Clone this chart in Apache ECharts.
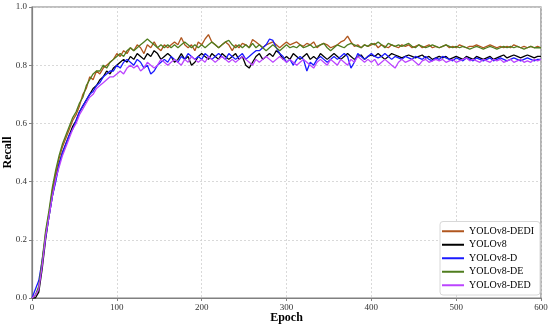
<!DOCTYPE html>
<html><head><meta charset="utf-8">
<script src="https://cdn.jsdelivr.net/npm/echarts@6/dist/echarts.min.js"></script>
<style>html,body{margin:0;padding:0;background:#fff}#c{width:550px;height:329px}</style>
</head><body><div id="c"></div>
<script>
// Epoch step of the sampled values
const epochStep = 4;
const seriesNames = ['YOLOv8-DEDI','YOLOv8','YOLOv8-D','YOLOv8-DE','YOLOv8-DED'];
const xTicks = [0,100,200,300,400,500,600];
const yTicks = [0.0,0.2,0.4,0.6,0.8,1.0];

const dedi = [
0.00,0.01,0.03,0.12,0.22,0.29,0.37,0.43,0.48,0.52,
0.55,0.58,0.61,0.63,0.66,0.70,0.72,0.76,0.75,0.78,
0.77,0.79,0.80,0.81,0.82,0.84,0.83,0.85,0.84,0.86,
0.85,0.87,0.86,0.84,0.87,0.86,0.88,0.86,0.85,0.87,
0.86,0.87,0.88,0.87,0.895,0.87,0.86,0.87,0.85,0.88,
0.87,0.89,0.905,0.88,0.87,0.86,0.87,0.88,0.87,0.85,
0.87,0.86,0.875,0.87,0.86,0.888,0.88,0.87,0.86,0.87,
0.875,0.88,0.87,0.86,0.87,0.88,0.87,0.875,0.88,0.87,
0.865,0.875,0.87,0.88,0.86,0.87,0.875,0.87,0.86,0.865,
0.87,0.88,0.885,0.9,0.88,0.865,0.87,0.86,0.87,0.865,
0.87,0.875,0.86,0.87,0.865,0.86,0.87,0.865,0.86,0.87,
0.865,0.87,0.86,0.865,0.87,0.86,0.865,0.87,0.86,0.865,
0.86,0.865,0.87,0.86,0.865,0.86,0.87,0.865,0.86,0.865,
0.865,0.87,0.865,0.86,0.865,0.87,0.865,0.86,0.865,0.86,
0.865,0.86,0.87,0.865,0.86,0.865,0.86,0.865,0.86,0.865,
0.86];
const v8 = [
0.00,0.00,0.02,0.10,0.20,0.28,0.35,0.41,0.46,0.50,
0.53,0.56,0.59,0.61,0.64,0.66,0.68,0.70,0.72,0.73,
0.75,0.76,0.78,0.77,0.79,0.80,0.81,0.82,0.81,0.83,
0.82,0.84,0.83,0.82,0.84,0.83,0.85,0.84,0.82,0.83,
0.84,0.83,0.81,0.82,0.84,0.82,0.83,0.80,0.81,0.83,
0.84,0.83,0.82,0.84,0.83,0.82,0.84,0.83,0.82,0.83,
0.84,0.82,0.83,0.80,0.79,0.81,0.83,0.84,0.82,0.83,
0.84,0.83,0.85,0.84,0.82,0.83,0.82,0.84,0.83,0.82,
0.83,0.84,0.82,0.83,0.82,0.84,0.83,0.82,0.83,0.84,
0.83,0.82,0.83,0.84,0.83,0.82,0.83,0.835,0.82,0.83,
0.835,0.83,0.84,0.83,0.82,0.83,0.84,0.835,0.83,0.825,
0.83,0.835,0.83,0.825,0.83,0.835,0.825,0.83,0.82,0.825,
0.83,0.825,0.83,0.82,0.825,0.83,0.825,0.82,0.83,0.825,
0.82,0.83,0.825,0.82,0.825,0.83,0.82,0.825,0.83,0.835,
0.825,0.83,0.835,0.83,0.825,0.83,0.835,0.83,0.825,0.83,
0.83];
const v8d = [
0.00,0.03,0.06,0.13,0.21,0.28,0.35,0.40,0.46,0.50,
0.53,0.56,0.58,0.61,0.64,0.66,0.68,0.70,0.71,0.73,
0.74,0.76,0.77,0.78,0.78,0.80,0.79,0.81,0.82,0.81,
0.80,0.82,0.81,0.79,0.80,0.77,0.78,0.80,0.81,0.82,
0.81,0.83,0.82,0.81,0.83,0.82,0.84,0.83,0.82,0.83,
0.82,0.84,0.83,0.82,0.83,0.84,0.83,0.82,0.84,0.83,
0.82,0.83,0.84,0.82,0.83,0.84,0.85,0.85,0.86,0.87,
0.89,0.885,0.86,0.84,0.83,0.81,0.82,0.80,0.82,0.83,
0.82,0.78,0.81,0.80,0.82,0.83,0.82,0.81,0.82,0.83,
0.82,0.83,0.84,0.83,0.79,0.81,0.84,0.83,0.82,0.83,
0.84,0.83,0.825,0.83,0.84,0.83,0.82,0.83,0.825,0.82,
0.83,0.825,0.82,0.83,0.825,0.82,0.83,0.82,0.815,0.825,
0.82,0.83,0.825,0.82,0.815,0.825,0.82,0.815,0.825,0.82,
0.815,0.825,0.82,0.815,0.82,0.825,0.815,0.82,0.825,0.82,
0.815,0.82,0.825,0.82,0.815,0.82,0.825,0.82,0.815,0.82,
0.82];
const de = [
0.00,0.01,0.04,0.13,0.23,0.30,0.38,0.44,0.49,0.53,
0.56,0.59,0.62,0.64,0.67,0.69,0.73,0.75,0.77,0.78,
0.78,0.80,0.79,0.81,0.82,0.83,0.84,0.83,0.85,0.86,
0.85,0.86,0.87,0.88,0.89,0.88,0.87,0.86,0.87,0.86,
0.87,0.86,0.87,0.86,0.87,0.88,0.87,0.86,0.87,0.86,
0.87,0.86,0.87,0.88,0.87,0.86,0.87,0.88,0.885,0.87,
0.86,0.87,0.86,0.87,0.86,0.875,0.86,0.87,0.86,0.85,
0.86,0.87,0.86,0.85,0.86,0.87,0.86,0.865,0.86,0.87,
0.86,0.865,0.87,0.86,0.865,0.87,0.875,0.86,0.85,0.86,
0.87,0.865,0.86,0.87,0.875,0.87,0.865,0.86,0.87,0.865,
0.875,0.87,0.88,0.87,0.86,0.875,0.87,0.865,0.87,0.865,
0.87,0.875,0.865,0.86,0.87,0.865,0.86,0.865,0.87,0.865,
0.86,0.865,0.87,0.865,0.86,0.865,0.86,0.865,0.86,0.855,
0.86,0.865,0.86,0.855,0.86,0.865,0.86,0.855,0.86,0.865,
0.86,0.865,0.86,0.865,0.86,0.855,0.86,0.865,0.86,0.86,
0.86];
const ded = [
0.00,0.01,0.03,0.11,0.21,0.28,0.35,0.41,0.45,0.49,
0.52,0.55,0.58,0.60,0.63,0.65,0.67,0.69,0.70,0.72,
0.73,0.74,0.75,0.76,0.76,0.77,0.78,0.77,0.79,0.80,
0.79,0.80,0.78,0.79,0.81,0.80,0.79,0.80,0.82,0.81,
0.80,0.81,0.82,0.81,0.80,0.82,0.81,0.83,0.82,0.81,
0.82,0.81,0.83,0.82,0.81,0.82,0.83,0.82,0.81,0.82,
0.81,0.82,0.83,0.82,0.81,0.80,0.82,0.81,0.82,0.83,
0.82,0.81,0.82,0.83,0.82,0.81,0.82,0.81,0.80,0.81,
0.82,0.81,0.80,0.79,0.81,0.82,0.81,0.80,0.82,0.81,
0.80,0.82,0.81,0.80,0.82,0.81,0.83,0.82,0.81,0.82,
0.81,0.82,0.80,0.81,0.82,0.81,0.80,0.79,0.81,0.82,
0.81,0.815,0.82,0.81,0.80,0.815,0.82,0.81,0.815,0.82,
0.815,0.82,0.81,0.815,0.82,0.81,0.815,0.82,0.825,0.815,
0.82,0.815,0.81,0.82,0.815,0.81,0.82,0.815,0.82,0.81,
0.815,0.82,0.81,0.815,0.82,0.81,0.815,0.81,0.82,0.815,
0.82];

const seriesValues = [dedi, v8, v8d, de, ded];
const colors = ['#b0561e','#000000','#1a1aff','#4f7d1e','#bb44ff'];

function pairs(arr){ return arr.map((v,i)=>[i*epochStep, v]); }

const chart = echarts.init(document.getElementById('c'), null, {renderer:'canvas'});
const serif = '"Liberation Serif","DejaVu Serif",serif';
chart.setOption({
  animation:false,
  backgroundColor:'#fff',
  grid:{left:32,right:9,top:7,bottom:31,containLabel:false,outerBoundsMode:'none',
    show:true,borderColor:'#808080',borderWidth:1.2,backgroundColor:'#fff'},
  xAxis:{type:'value',min:xTicks[0],max:xTicks[xTicks.length-1],interval:100,
    name:'Epoch',nameLocation:'middle',nameGap:14,nameMoveOverlap:false,
    nameTextStyle:{fontFamily:serif,fontWeight:'bold',fontSize:12,color:'#000'},
    axisLine:{show:true,lineStyle:{color:'#808080',width:1.2}},
    axisTick:{show:true,length:3,lineStyle:{color:'#808080'}},
    axisLabel:{fontFamily:serif,fontSize:9,color:'#333',margin:5},
    splitLine:{show:true,lineStyle:{type:[2,2],color:'#d0d0d0',width:0.8}}},
  yAxis:{type:'value',min:yTicks[0],max:yTicks[yTicks.length-1],interval:0.2,
    name:'Recall',nameLocation:'middle',nameGap:18,nameMoveOverlap:false,
    nameTextStyle:{fontFamily:serif,fontWeight:'bold',fontSize:12,color:'#000'},
    axisLine:{show:true,lineStyle:{color:'#808080',width:1.2}},
    axisTick:{show:true,length:3,lineStyle:{color:'#808080'}},
    axisLabel:{fontFamily:serif,fontSize:9,color:'#333',margin:5,formatter:v=>v.toFixed(1)},
    splitLine:{show:true,lineStyle:{type:[2,2],color:'#d0d0d0',width:0.8}}},
  legend:{orient:'vertical',right:10,bottom:34,itemWidth:22,itemHeight:2,itemGap:2,
    icon:'rect',padding:[4,6,4,2],backgroundColor:'#fff',borderColor:'#d8d8d8',borderWidth:1,borderRadius:3,
    textStyle:{fontFamily:serif,fontSize:10,lineHeight:11.5,color:'#000'},
    data:seriesNames},
  series:seriesNames.map((n,i)=>({name:n,type:'line',data:pairs(seriesValues[i]),
    showSymbol:false,symbol:'none',lineStyle:{width:1.3,color:colors[i]},itemStyle:{color:colors[i]}}))
});
</script></body></html>
